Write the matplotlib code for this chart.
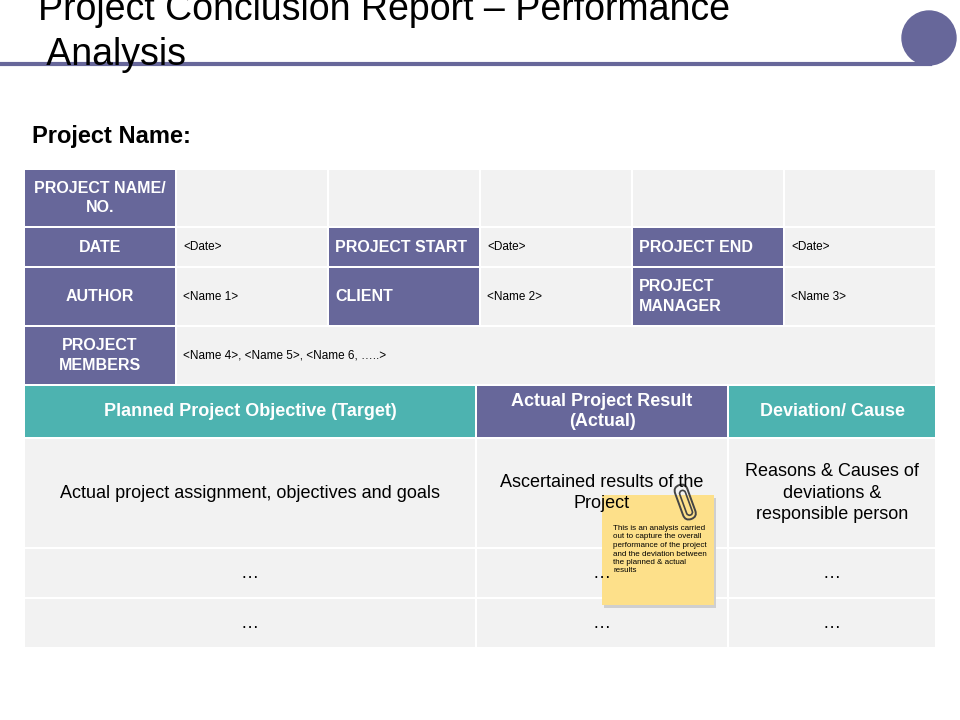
import matplotlib
matplotlib.use("Agg")
import matplotlib.pyplot as plt
from matplotlib.patches import Rectangle, Circle, FancyBboxPatch
import matplotlib.transforms as mtransforms

PURPLE = "#67679a"
TEAL = "#4db3b0"
GRAY = "#f2f2f2"

title_lines = ["Project Conclusion Report \u2013 Performance", " Analysis"]
subtitle = "Project Name:"

# upper grid: (row, col, colspan, text, is_header)
upper_cols = [24, 176, 328, 480, 632, 784, 936]
upper_rows = [169, 227, 267, 326, 385]
upper_cells = [
    (0, 0, 1, "PROJECT NAME/\nNO.", True), (0, 1, 1, "", False), (0, 2, 1, "", False),
    (0, 3, 1, "", False), (0, 4, 1, "", False), (0, 5, 1, "", False),
    (1, 0, 1, "DATE", True), (1, 1, 1, "<Date>", False), (1, 2, 1, "PROJECT START", True),
    (1, 3, 1, "<Date>", False), (1, 4, 1, "PROJECT END", True), (1, 5, 1, "<Date>", False),
    (2, 0, 1, "AUTHOR", True), (2, 1, 1, "<Name 1>", False), (2, 2, 1, "CLIENT", True),
    (2, 3, 1, "<Name 2>", False), (2, 4, 1, "PROJECT\nMANAGER", True), (2, 5, 1, "<Name 3>", False),
    (3, 0, 1, "PROJECT\nMEMBERS", True), (3, 1, 5, "<Name 4>, <Name 5>, <Name 6, \u2026..>", False),
]

lower_cols = [24, 476, 728, 936]
lower_rows = [385, 438, 548, 598, 648]
lower_headers = ["Planned Project Objective (Target)", "Actual Project Result\n(Actual)", "Deviation/ Cause"]
lower_header_colors = [TEAL, PURPLE, TEAL]
lower_body = [
    ["Actual project assignment, objectives and goals", "Ascertained results of the\nProject", "Reasons & Causes of\ndeviations &\nresponsible person"],
    ["\u2026", "\u2026", "\u2026"],
    ["\u2026", "\u2026", "\u2026"],
]
note_text = ("This is an analysis carried\nout to capture the overall\nperformance of the project\n"
             "and the deviation between\nthe planned & actual\nresults")

plt.rcParams["font.family"] = "Liberation Sans"
fig = plt.figure(figsize=(9.6, 7.2), dpi=100)
ax = fig.add_axes([0, 0, 1, 1])
ax.set_xlim(0, 960)
ax.set_ylim(720, 0)
ax.set_axis_off()

ax.text(38, 10, title_lines[0], fontsize=27, va="center", ha="left")
ax.text(38, 55, title_lines[1], fontsize=27, va="center", ha="left")
ax.plot([0, 930], [64, 64], color=PURPLE, lw=3)
ax.add_patch(Circle((929, 38), 27, color=PURPLE))
ax.text(32, 136, subtitle, fontsize=17, fontweight="bold", va="center")

gap = 1
for r, c, span, txt, hdr in upper_cells:
    x0, x1 = upper_cols[c], upper_cols[c + span]
    y0, y1 = upper_rows[r], upper_rows[r + 1]
    ax.add_patch(Rectangle((x0 + gap, y0 + gap), x1 - x0 - 2 * gap, y1 - y0 - 2 * gap,
                           color=PURPLE if hdr else GRAY, lw=0))
    if hdr:
        centred = c == 0
        ax.text((x0 + x1) / 2 if centred else x0 + 7, (y0 + y1) / 2, txt, color="white",
                fontsize=11.5, fontweight="bold", ha="center" if centred else "left",
                va="center", linespacing=1.4)
    else:
        ax.text(x0 + 7, (y0 + y1) / 2, txt, fontsize=8.5, ha="left", va="center")

for c, (txt, col) in enumerate(zip(lower_headers, lower_header_colors)):
    x0, x1 = lower_cols[c], lower_cols[c + 1]
    y0, y1 = lower_rows[0], lower_rows[1]
    ax.add_patch(Rectangle((x0 + gap, y0 + gap), x1 - x0 - 2 * gap, y1 - y0 - 2 * gap, color=col, lw=0))
    ax.text((x0 + x1) / 2, (y0 + y1) / 2, txt, color="white", fontsize=13, fontweight="bold",
            ha="center", va="center", linespacing=1.3)
for r, row in enumerate(lower_body):
    for c, txt in enumerate(row):
        x0, x1 = lower_cols[c], lower_cols[c + 1]
        y0, y1 = lower_rows[r + 1], lower_rows[r + 2]
        ax.add_patch(Rectangle((x0 + gap, y0 + gap), x1 - x0 - 2 * gap, y1 - y0 - 2 * gap, color=GRAY, lw=0))
        ax.text((x0 + x1) / 2, (y0 + y1) / 2, txt, fontsize=13, ha="center", va="center",
                linespacing=1.35)

# sticky note
ax.add_patch(Rectangle((604, 498), 112, 110, color="#cfcfcf", lw=0))
ax.add_patch(Rectangle((602, 495), 112, 110, color="#fde08a", lw=0))
ax.text(613, 525, note_text, fontsize=5.8, ha="left", va="top", linespacing=1.3)
rot = mtransforms.Affine2D().rotate_deg_around(685, 500, -20) + ax.transData
outer = FancyBboxPatch((678, 484), 13, 36, boxstyle="round,pad=0,rounding_size=6.5",
                       fill=False, ec="#444444", lw=1.4, transform=rot)
inner = FancyBboxPatch((682, 490), 6, 26, boxstyle="round,pad=0,rounding_size=3",
                       fill=False, ec="#444444", lw=1.2, transform=rot)
ax.add_patch(outer)
ax.add_patch(inner)

fig.savefig("out.png", dpi=100)
